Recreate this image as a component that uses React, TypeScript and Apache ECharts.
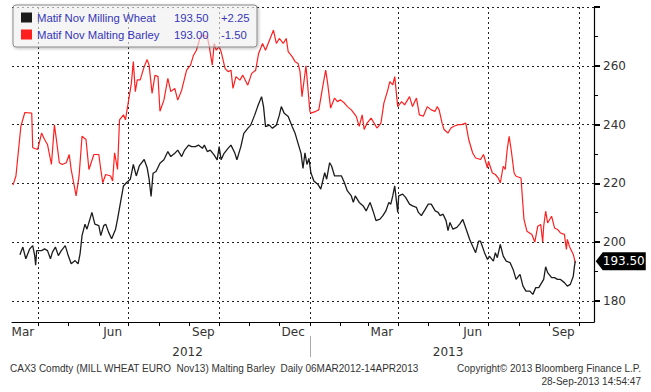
import React, { useEffect, useRef } from 'react';
import * as echarts from 'echarts';

const seriesNames = ['Matif Nov Milling Wheat', 'Matif Nov Malting Barley'];
const lastValues = ['193.50', '193.00'];
const changes = ['+2.25', '-1.50'];
const seriesColors = ['#1c1c1c', '#ff1f1f'];

const monthNames = ['Jan', 'Feb', 'Mar', 'Apr', 'May', 'Jun', 'Jul', 'Aug', 'Sep', 'Oct', 'Nov', 'Dec'];
const monthLabelDates = ['2012-03-16', '2012-06-15', '2012-09-15', '2012-12-15', '2013-03-15', '2013-06-15', '2013-09-15'];
const monthTickDates = [
  '2012-04-01', '2012-05-01', '2012-06-01', '2012-07-01', '2012-08-01', '2012-09-01', '2012-10-01',
  '2012-11-01', '2012-12-01', '2013-01-01', '2013-02-01', '2013-03-01', '2013-04-01', '2013-05-01',
  '2013-06-01', '2013-07-01', '2013-08-01', '2013-09-01', '2013-10-01',
];
const quarterDates = ['2012-04-01', '2012-07-01', '2012-10-01', '2013-01-01', '2013-04-01', '2013-07-01', '2013-10-01'];
const yearLabelDates = ['2012-08-30', '2013-05-21'];
const yearSeparatorDates = ['2013-01-01'];
const xRange = ['2012-03-05', '2013-10-16'];
const yRange = [172.8, 280];
const yMajorTicks = [180, 200, 220, 240, 260, 280];
const yLabelValues = [180, 200, 220, 240, 260];
const yMinorTicks = [190, 210, 230, 250, 270];

const wheatDates = [
  '2012-03-13', '2012-03-16', '2012-03-19', '2012-03-23', '2012-03-26', '2012-03-28', '2012-03-29', '2012-03-30',
  '2012-04-04', '2012-04-07', '2012-04-10', '2012-04-13', '2012-04-15', '2012-04-18', '2012-04-21', '2012-04-24',
  '2012-04-28', '2012-05-01', '2012-05-04', '2012-05-08', '2012-05-11', '2012-05-13', '2012-05-15', '2012-05-18',
  '2012-05-20', '2012-05-25', '2012-05-28', '2012-06-01', '2012-06-03', '2012-06-06', '2012-06-08', '2012-06-11',
  '2012-06-14', '2012-06-18', '2012-06-20', '2012-06-23', '2012-06-26', '2012-06-29', '2012-07-03', '2012-07-06',
  '2012-07-09', '2012-07-12', '2012-07-17', '2012-07-20', '2012-07-22', '2012-07-24', '2012-07-26', '2012-07-29',
  '2012-08-02', '2012-08-06', '2012-08-10', '2012-08-13', '2012-08-17', '2012-08-20', '2012-08-24', '2012-08-27',
  '2012-08-31', '2012-09-03', '2012-09-07', '2012-09-10', '2012-09-14', '2012-09-16', '2012-09-19', '2012-09-22',
  '2012-09-26', '2012-09-29', '2012-10-01', '2012-10-03', '2012-10-06', '2012-10-10', '2012-10-13', '2012-10-17',
  '2012-10-19', '2012-10-23', '2012-10-26', '2012-10-30', '2012-11-02', '2012-11-06', '2012-11-09', '2012-11-13',
  '2012-11-15', '2012-11-17', '2012-11-21', '2012-11-24', '2012-11-28', '2012-12-01', '2012-12-03', '2012-12-06',
  '2012-12-10', '2012-12-14', '2012-12-17', '2012-12-20', '2012-12-23', '2012-12-25', '2012-12-27', '2012-12-29',
  '2012-12-31', '2013-01-02', '2013-01-05', '2013-01-09', '2013-01-12', '2013-01-16', '2013-01-18', '2013-01-21',
  '2013-01-23', '2013-01-26', '2013-01-29', '2013-02-02', '2013-02-05', '2013-02-08', '2013-02-12', '2013-02-14',
  '2013-02-16', '2013-02-20', '2013-02-24', '2013-02-27', '2013-03-03', '2013-03-06', '2013-03-09', '2013-03-13',
  '2013-03-16', '2013-03-19', '2013-03-22', '2013-03-24', '2013-03-26', '2013-03-28', '2013-03-31', '2013-04-01',
  '2013-04-05', '2013-04-08', '2013-04-12', '2013-04-15', '2013-04-19', '2013-04-21', '2013-04-24', '2013-04-28',
  '2013-05-01', '2013-05-04', '2013-05-08', '2013-05-11', '2013-05-13', '2013-05-16', '2013-05-19', '2013-05-21',
  '2013-05-23', '2013-05-26', '2013-05-30', '2013-06-02', '2013-06-05', '2013-06-08', '2013-06-12', '2013-06-15',
  '2013-06-18', '2013-06-21', '2013-06-23', '2013-06-27', '2013-06-30', '2013-07-02', '2013-07-06', '2013-07-08',
  '2013-07-10', '2013-07-13', '2013-07-16', '2013-07-19', '2013-07-23', '2013-07-26', '2013-07-29', '2013-08-02',
  '2013-08-05', '2013-08-08', '2013-08-12', '2013-08-15', '2013-08-18', '2013-08-21', '2013-08-24', '2013-08-26',
  '2013-08-28', '2013-08-30', '2013-09-03', '2013-09-06', '2013-09-09', '2013-09-12', '2013-09-16', '2013-09-19',
  '2013-09-22', '2013-09-25', '2013-09-26', '2013-09-27',
];
const wheatValues = [
  195.7, 198.3, 194.3, 197.7, 198.8, 195.4, 192.1, 197.1,
  197.1, 197.7, 197.1, 194.3, 196.6, 198.3, 195.4, 197.1,
  198.8, 195.4, 192.6, 193.7, 192.6, 196.0, 202.2, 206.1,
  204.4, 210.1, 206.1, 205.6, 202.2, 205.6, 206.1, 203.3,
  201.1, 204.4, 207.8, 213.5, 219.1, 220.2, 221.4, 226.4,
  222.5, 225.9, 228.1, 225.3, 221.4, 215.5, 223.4, 224.0,
  226.8, 228.0, 230.8, 229.1, 230.2, 231.3, 229.1, 231.3,
  233.0, 232.5, 232.5, 233.0, 231.9, 233.0, 230.8, 231.3,
  229.6, 228.0, 232.5, 228.0, 230.2, 231.9, 233.0, 230.2,
  228.0, 232.5, 237.0, 238.7, 239.8, 243.2, 246.1, 249.5,
  246.1, 239.3, 239.8, 238.7, 239.8, 243.2, 246.1, 243.8,
  242.7, 239.3, 237.0, 233.6, 230.2, 225.1, 230.4, 226.4,
  228.5, 223.6, 220.8, 219.7, 218.0, 223.6, 221.4, 227.0,
  225.9, 222.5, 222.5, 222.5, 220.2, 217.4, 215.7, 213.5,
  215.7, 213.5, 212.3, 210.6, 213.5, 210.6, 207.3, 207.8,
  209.0, 210.6, 213.5, 212.9, 215.7, 219.1, 210.1, 215.7,
  216.3, 215.2, 212.9, 212.3, 211.8, 210.1, 209.0, 211.2,
  212.9, 212.9, 210.6, 210.1, 209.0, 209.5, 207.3, 203.9,
  206.7, 204.4, 205.0, 206.2, 207.7, 204.8, 200.9, 198.6,
  196.4, 200.3, 200.3, 196.4, 194.1, 195.2, 193.5, 196.4,
  194.7, 199.2, 195.2, 193.5, 193.0, 190.7, 187.3, 189.0,
  185.0, 183.3, 183.3, 182.2, 184.5, 184.5, 186.2, 187.3,
  191.6, 189.6, 187.9, 187.9, 187.3, 187.3, 186.2, 185.0,
  185.6, 188.4, 191.3, 193.5,
];

const barleyDates = [
  '2012-03-06', '2012-03-09', '2012-03-14', '2012-03-18', '2012-03-25', '2012-03-26', '2012-03-31', '2012-04-04',
  '2012-04-07', '2012-04-10', '2012-04-14', '2012-04-17', '2012-04-19', '2012-04-22', '2012-04-25', '2012-04-29',
  '2012-05-02', '2012-05-04', '2012-05-09', '2012-05-12', '2012-05-15', '2012-05-19', '2012-05-22', '2012-05-27',
  '2012-06-01', '2012-06-03', '2012-06-05', '2012-06-08', '2012-06-13', '2012-06-15', '2012-06-17', '2012-06-20',
  '2012-06-22', '2012-06-26', '2012-06-28', '2012-07-04', '2012-07-06', '2012-07-08', '2012-07-10', '2012-07-13',
  '2012-07-17', '2012-07-20', '2012-07-22', '2012-07-25', '2012-07-28', '2012-07-31', '2012-08-02', '2012-08-06',
  '2012-08-10', '2012-08-13', '2012-08-17', '2012-08-20', '2012-08-24', '2012-08-29', '2012-09-02', '2012-09-05',
  '2012-09-08', '2012-09-12', '2012-09-15', '2012-09-19', '2012-09-21', '2012-09-24', '2012-09-26', '2012-09-28',
  '2012-10-01', '2012-10-03', '2012-10-07', '2012-10-10', '2012-10-13', '2012-10-15', '2012-10-18', '2012-10-22',
  '2012-10-25', '2012-10-30', '2012-11-03', '2012-11-07', '2012-11-10', '2012-11-14', '2012-11-17', '2012-11-21',
  '2012-11-25', '2012-11-28', '2012-12-01', '2012-12-05', '2012-12-08', '2012-12-10', '2012-12-14', '2012-12-17',
  '2012-12-20', '2012-12-22', '2012-12-24', '2012-12-28', '2013-01-01', '2013-01-02', '2013-01-07', '2013-01-10',
  '2013-01-14', '2013-01-17', '2013-01-19', '2013-01-22', '2013-01-26', '2013-01-29', '2013-02-01', '2013-02-05',
  '2013-02-08', '2013-02-12', '2013-02-17', '2013-02-20', '2013-02-23', '2013-02-25', '2013-02-28', '2013-03-04',
  '2013-03-07', '2013-03-10', '2013-03-14', '2013-03-17', '2013-03-21', '2013-03-23', '2013-03-26', '2013-03-28',
  '2013-03-31', '2013-04-04', '2013-04-07', '2013-04-12', '2013-04-15', '2013-04-19', '2013-04-22', '2013-04-26',
  '2013-04-30', '2013-05-04', '2013-05-08', '2013-05-10', '2013-05-12', '2013-05-15', '2013-05-17', '2013-05-21',
  '2013-05-24', '2013-05-27', '2013-06-01', '2013-06-04', '2013-06-08', '2013-06-11', '2013-06-15', '2013-06-18',
  '2013-06-23', '2013-06-26', '2013-06-30', '2013-07-01', '2013-07-05', '2013-07-08', '2013-07-11', '2013-07-13',
  '2013-07-16', '2013-07-18', '2013-07-20', '2013-07-22', '2013-07-24', '2013-07-27', '2013-07-29', '2013-08-03',
  '2013-08-06', '2013-08-09', '2013-08-14', '2013-08-17', '2013-08-20', '2013-08-23', '2013-08-25', '2013-08-26',
  '2013-08-28', '2013-08-30', '2013-09-03', '2013-09-06', '2013-09-09', '2013-09-12', '2013-09-16', '2013-09-18',
  '2013-09-19', '2013-09-21', '2013-09-25', '2013-09-27',
];
const barleyValues = [
  219.4, 222.5, 239.4, 244.1, 243.9, 232.1, 231.5, 237.1,
  234.9, 233.2, 226.4, 239.9, 234.9, 227.0, 226.4, 227.0,
  229.8, 224.7, 215.7, 222.5, 236.0, 234.9, 224.7, 229.8,
  229.8, 224.7, 220.2, 223.0, 222.5, 220.8, 230.4, 224.7,
  241.6, 243.3, 241.6, 254.0, 261.4, 251.2, 255.2, 255.2,
  259.7, 262.1, 260.2, 250.6, 256.8, 256.3, 244.5, 248.3,
  255.7, 251.2, 252.3, 248.3, 251.7, 258.5, 260.2, 263.6,
  265.3, 269.9, 270.4, 269.9, 266.5, 260.2, 267.6, 265.3,
  266.5, 264.8, 259.1, 258.0, 258.5, 252.3, 256.3, 255.1,
  256.8, 253.4, 257.4, 258.5, 264.2, 267.6, 265.3, 268.7,
  272.1, 267.6, 269.3, 267.6, 269.3, 264.8, 263.1, 261.4,
  260.8, 258.0, 249.5, 260.0, 244.5, 243.9, 244.5, 245.0,
  252.9, 258.5, 254.0, 245.6, 249.0, 247.8, 248.4, 247.3,
  246.1, 245.0, 242.8, 239.4, 243.3, 238.3, 240.5, 242.2,
  240.5, 238.8, 240.5, 247.3, 251.8, 254.6, 253.5, 256.3,
  246.1, 247.8, 246.7, 249.5, 246.1, 249.0, 243.3, 242.8,
  246.1, 245.0, 244.5, 246.1, 245.0, 240.5, 238.3, 237.1,
  238.8, 239.4, 240.0, 240.0, 240.5, 234.9, 230.3, 228.6,
  228.1, 229.8, 225.2, 227.5, 223.5, 223.0, 221.8, 220.1,
  225.8, 224.7, 231.5, 236.0, 231.5, 223.5, 222.4, 221.8,
  207.7, 203.7, 202.6, 200.0, 205.4, 206.0, 200.0, 205.4,
  210.5, 206.5, 208.8, 204.8, 204.3, 203.1, 202.6, 197.5,
  200.9, 198.6, 195.8, 193.0,
];

const footerLeft = 'CAX3 Comdty (MILL WHEAT EURO  Nov13) Malting Barley  Daily 06MAR2012-14APR2013';
const footerRight1 = 'Copyright\u00a9 2013 Bloomberg Finance L.P.';
const footerRight2 = '28-Sep-2013 14:54:47';

const toTime = (s: string) => {
  const [y, m, d] = s.split('-').map(Number);
  return new Date(y, m - 1, d).getTime();
};

const AXIS_FONT = 'DejaVu Sans';
const FOOTER_FONT = '10px "Liberation Sans"';

export default function App() {
  const ref = useRef<HTMLDivElement>(null);

  useEffect(() => {
    if (!ref.current) return;
    const chart = echarts.init(ref.current, undefined, { renderer: 'svg' });
    const xMin = toTime(xRange[0]);
    const xMax = toTime(xRange[1]);
    const wheatData = wheatDates.map((d, i) => [toTime(d), wheatValues[i]]);
    const barleyData = barleyDates.map((d, i) => [toTime(d), barleyValues[i]]);
    const lastIdx = wheatDates.length - 1;

    const baseX = { type: 'value', min: xMin, max: xMax, gridIndex: 0, position: 'bottom', scale: true };
    const baseY = { type: 'value', min: yRange[0], max: yRange[1], position: 'right', scale: true };
    const legendText = { color: '#3535b8', fontFamily: 'Liberation Sans', fontSize: 11.3 };

    chart.setOption({
      animation: false,
      backgroundColor: '#ffffff',
      grid: { left: 12, right: 57, top: 7, bottom: 70, containLabel: false },
      legend: {
        left: 13,
        top: 5,
        orient: 'vertical',
        selectedMode: false,
        data: seriesNames.map((n, i) => ({ name: n, icon: 'rect', itemStyle: { color: seriesColors[i] } })),
        itemWidth: 11,
        itemHeight: 10,
        itemGap: 4,
        padding: [6, 6, 6, 8],
        backgroundColor: 'rgba(255,255,255,0.55)',
        borderColor: '#8a8a8a',
        borderWidth: 1,
        borderRadius: 3,
        shadowBlur: 3,
        shadowColor: 'rgba(0,0,0,0.35)',
        shadowOffsetX: 1,
        shadowOffsetY: 1,
        formatter: (name: string) => {
          const i = seriesNames.indexOf(name);
          return `{n|${name}}{v|${lastValues[i]}}{c|${changes[i]}}`;
        },
        textStyle: {
          ...legendText,
          lineHeight: 13,
          rich: {
            n: { width: 137, ...legendText },
            v: { width: 47, ...legendText },
            c: { width: 30, ...legendText },
          },
        },
      },
      xAxis: [
        {
          ...baseX,
          axisLine: { show: true, lineStyle: { color: '#000', width: 1 } },
          axisTick: {
            show: true,
            inside: false,
            length: 4,
            customValues: monthTickDates.map(toTime),
            lineStyle: { color: '#000', width: 1 },
          },
          axisLabel: {
            show: true,
            customValues: monthLabelDates.map(toTime),
            formatter: (v: number) => monthNames[new Date(v).getMonth()],
            color: '#333',
            fontFamily: AXIS_FONT,
            fontSize: 12,
            margin: 4,
          },
          splitLine: { show: false },
        },
        {
          ...baseX,
          axisLine: { show: false },
          axisTick: { show: false, customValues: quarterDates.map(toTime) },
          axisLabel: {
            show: true,
            customValues: yearLabelDates.map(toTime),
            formatter: (v: number) => String(new Date(v).getFullYear()),
            color: '#333',
            fontFamily: AXIS_FONT,
            fontSize: 12,
            margin: 24,
          },
          splitLine: { show: true, lineStyle: { color: '#222', width: 1, type: [2, 3] } },
        },
        {
          ...baseX,
          offset: 14,
          axisLine: { show: false },
          axisTick: {
            show: true,
            inside: false,
            length: 21,
            customValues: yearSeparatorDates.map(toTime),
            lineStyle: { color: '#aaa', width: 1 },
          },
          axisLabel: { show: false },
          splitLine: { show: false },
        },
      ],
      yAxis: [
        {
          ...baseY,
          axisLine: { show: true, lineStyle: { color: '#000', width: 1.2 } },
          axisTick: {
            show: true,
            inside: false,
            length: 6,
            customValues: yMajorTicks,
            lineStyle: { color: '#000', width: 2 },
          },
          axisLabel: {
            show: true,
            customValues: yLabelValues,
            color: '#333',
            fontFamily: AXIS_FONT,
            fontSize: 12,
            margin: 9,
          },
          splitLine: { show: true, lineStyle: { color: '#222', width: 1, type: [2, 3] } },
        },
        {
          ...baseY,
          axisLine: { show: false },
          axisTick: {
            show: true,
            inside: false,
            length: 4,
            customValues: yMinorTicks,
            lineStyle: { color: '#000', width: 1 },
          },
          axisLabel: { show: false },
          splitLine: { show: false },
        },
      ],
      series: [
        {
          name: seriesNames[0],
          type: 'line',
          xAxisIndex: 0,
          yAxisIndex: 0,
          data: wheatData,
          showSymbol: false,
          symbol: 'none',
          clip: false,
          z: 3,
          lineStyle: { color: seriesColors[0], width: 1.3 },
          itemStyle: { color: seriesColors[0] },
          markPoint: {
            silent: true,
            symbol: 'path://M0,9L7,0L50,0L50,18L7,18Z',
            symbolSize: [50, 18],
            symbolKeepAspect: false,
            symbolOffset: [45.5, 0],
            itemStyle: { color: '#000' },
            label: {
              show: true,
              position: 'inside',
              offset: [3, 0],
              color: '#fff',
              fontFamily: AXIS_FONT,
              fontSize: 12,
              formatter: () => lastValues[0],
            },
            data: [{ coord: [wheatData[lastIdx][0], wheatData[lastIdx][1]] }],
          },
        },
        {
          name: seriesNames[1],
          type: 'line',
          xAxisIndex: 0,
          yAxisIndex: 0,
          data: barleyData,
          showSymbol: false,
          symbol: 'none',
          z: 2,
          lineStyle: { color: seriesColors[1], width: 1.2 },
          itemStyle: { color: seriesColors[1] },
        },
      ],
      graphic: [
        {
          type: 'text',
          left: 10,
          top: 363,
          style: { text: footerLeft, fill: '#333', font: FOOTER_FONT },
        },
        {
          type: 'text',
          right: 10,
          top: 363,
          style: { text: footerRight1, fill: '#333', font: FOOTER_FONT, textAlign: 'right' },
        },
        {
          type: 'text',
          right: 10,
          top: 376,
          style: { text: footerRight2, fill: '#333', font: FOOTER_FONT, textAlign: 'right' },
        },
      ],
    });

    return () => chart.dispose();
  }, []);

  return (
    <div
      ref={ref}
      style={{ position: 'fixed', left: 0, top: 0, width: 651, height: 392, background: '#fff' }}
    />
  );
}
